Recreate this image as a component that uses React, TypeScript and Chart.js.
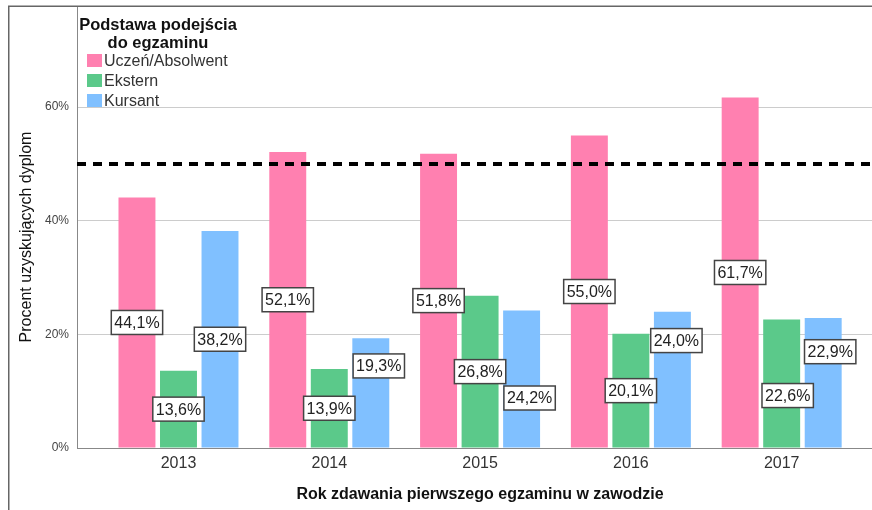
import React, { useEffect, useRef } from "react";
import { Chart, registerables } from "chart.js";

Chart.register(...registerables);

const years = ["2013", "2014", "2015", "2016", "2017"];
const seriesNames = ["Uczeń/Absolwent", "Ekstern", "Kursant"];
const uczen = [44.1, 52.1, 51.8, 55.0, 61.7];
const ekstern = [13.6, 13.9, 26.8, 20.1, 22.6];
const kursant = [38.2, 19.3, 24.2, 24.0, 22.9];
const seriesColors = ["#ff80b0", "#5bc98a", "#80c0ff"];
const yTicks = [0, 20, 40, 60];
const threshold = 50;
const legendTitle = ["Podstawa podejścia", "do egzaminu"];
const xTitle = "Rok zdawania pierwszego egzaminu w zawodzie";
const yTitle = "Procent uzyskujących dyplom";

const FONT = 'Arial, "Liberation Sans", sans-serif';

// label collision nudges in pixels, keyed "series-category" (layout only)
const LABEL_NUDGE: Record<string, [number, number]> = {
  "2-1": [8, -27],
  "2-2": [8, 19],
  "2-3": [4, -39],
  "1-4": [6, 12],
  "2-4": [7, -31],
};

const fmt = (v: number) => v.toFixed(1).replace(".", ",") + "%";

const decor = {
  id: "decor",
  afterDatasetsDraw(chart: any) {
    const { ctx, chartArea } = chart;
    const y = chart.scales.y.getPixelForValue(threshold);
    ctx.save();
    ctx.strokeStyle = "#000";
    ctx.lineWidth = 4;
    ctx.setLineDash([9, 7]);
    ctx.beginPath();
    ctx.moveTo(chartArea.left, y);
    ctx.lineTo(chartArea.right, y);
    ctx.stroke();
    ctx.restore();
  },
  afterDraw(chart: any) {
    const { ctx } = chart;
    ctx.save();
    // frame
    ctx.strokeStyle = "#666";
    ctx.lineWidth = 1.5;
    ctx.beginPath();
    ctx.moveTo(8.75, 510);
    ctx.lineTo(8.75, 6.25);
    ctx.lineTo(872, 6.25);
    ctx.stroke();

    // data labels
    ctx.font = `16px ${FONT}`;
    ctx.textAlign = "center";
    ctx.textBaseline = "middle";
    chart.data.datasets.forEach((ds: any, k: number) => {
      const meta = chart.getDatasetMeta(k);
      meta.data.forEach((el: any, i: number) => {
        const v = ds.data[i].y;
        const txt = fmt(v);
        const nudge = LABEL_NUDGE[`${k}-${i}`] || [0, 0];
        const cx = el.x + nudge[0];
        const cy = (el.y + el.base) / 2 + nudge[1];
        const w = ctx.measureText(txt).width + 6;
        const h = 24;
        ctx.fillStyle = "#fff";
        ctx.fillRect(cx - w / 2, cy - h / 2, w, h);
        ctx.strokeStyle = "#444";
        ctx.lineWidth = 1.5;
        ctx.strokeRect(cx - w / 2, cy - h / 2, w, h);
        ctx.fillStyle = "#222";
        ctx.fillText(txt, cx, cy + 1);
      });
    });

    // legend
    ctx.fillStyle = "#111";
    ctx.font = `bold 16.5px ${FONT}`;
    ctx.textAlign = "center";
    legendTitle.forEach((t, i) => ctx.fillText(t, 158, 25 + i * 18));
    ctx.textAlign = "left";
    ctx.font = `16px ${FONT}`;
    seriesNames.forEach((n, i) => {
      const cy = 60.5 + i * 20;
      ctx.fillStyle = seriesColors[i];
      ctx.fillRect(87, cy - 6.5, 15, 13);
      ctx.fillStyle = "#333";
      ctx.fillText(n, 104, cy + 1);
    });

    // axis titles
    ctx.fillStyle = "#111";
    ctx.font = `bold 16px ${FONT}`;
    ctx.textAlign = "center";
    ctx.fillText(xTitle, 480, 495);
    ctx.save();
    ctx.translate(27, 237);
    ctx.rotate(-Math.PI / 2);
    ctx.font = `16px ${FONT}`;
    ctx.fillText(yTitle, 0, 0);
    ctx.restore();
    ctx.restore();
  },
};

export default function App() {
  const ref = useRef<HTMLCanvasElement>(null);
  useEffect(() => {
    const canvas = ref.current!;
    const datasets = [uczen, ekstern, kursant].map((vals, k) => ({
      label: seriesNames[k],
      data: vals.map((v, i) => ({ x: i, y: v })),
      backgroundColor: seriesColors[k],
      borderWidth: 0,
      categoryPercentage: 0.826,
      barPercentage: 0.89,
    }));
    const chart = new Chart(canvas, {
      type: "bar",
      data: { datasets } as any,
      options: {
        animation: false,
        responsive: false,
        devicePixelRatio: 1,
        layout: { padding: { left: 8, top: 6, right: 0, bottom: 0 } },
        plugins: {
          legend: { display: false },
          tooltip: { enabled: false },
        },
        scales: {
          x: {
            type: "linear",
            min: -0.673,
            max: 4.599,
            offset: false,
            grid: { display: false, drawTicks: false },
            border: { display: true, color: "#888", width: 1 },
            afterBuildTicks: (s: any) => {
              s.ticks = years.map((_, i) => ({ value: i }));
            },
            afterFit: (s: any) => {
              s.height = 62;
              s.paddingLeft = 0;
              s.paddingRight = 0;
            },
            ticks: {
              autoSkip: false,
              maxRotation: 0,
              padding: 6,
              color: "#333",
              font: { family: FONT, size: 16 },
              callback: (v: any) => years[v] ?? "",
            },
          },
          y: {
            min: 0,
            max: 77.8,
            afterBuildTicks: (s: any) => {
              s.ticks = yTicks.map((v) => ({ value: v }));
            },
            afterFit: (s: any) => {
              s.width = 69;
              s.paddingTop = 0;
              s.paddingBottom = 0;
            },
            grid: { color: "#cccccc", lineWidth: 1, drawTicks: false },
            border: { display: true, color: "#888", width: 1 },
            ticks: {
              padding: 8,
              color: "#444",
              font: { family: FONT, size: 12 },
              callback: (v: any) => v + "%",
            },
          },
        },
      } as any,
      plugins: [decor],
    });
    return () => chart.destroy();
  }, []);
  return (
    <div style={{ position: "absolute", left: 0, top: 0, width: 872, height: 510, background: "#fff" }}>
      <canvas ref={ref} width={872} height={510} style={{ display: "block", width: 872, height: 510 }} />
    </div>
  );
}
